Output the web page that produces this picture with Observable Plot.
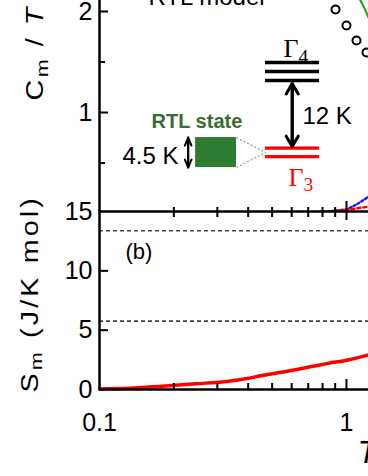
<!DOCTYPE html>
<html><head><meta charset="utf-8">
<script src="https://cdn.jsdelivr.net/npm/d3@7"></script>
<script src="https://cdn.jsdelivr.net/npm/@observablehq/plot@0.6"></script>
<style>
html,body{margin:0;padding:0;background:#fff;overflow:hidden;}
#chart{position:relative;width:368px;height:476px;overflow:hidden;background:#fff;}
#chart svg{position:absolute;left:0;}
</style></head><body><div id="chart"></div>
<script>
// ---------- data ----------
const circleT = [0.903, 1.0, 1.098, 1.205];
const circleC = [2.02, 1.861, 1.713, 1.594];
const greenT = [1.10, 1.139, 1.184, 1.228, 1.30];
const greenC = [2.19, 2.109, 2.03, 1.94, 1.80];
const blueT = [0.6, 0.7, 0.8, 0.9, 1.0, 1.1, 1.2, 1.3];
const blueC = [0.0, 0.005, 0.015, 0.027, 0.04, 0.09, 0.15, 0.22];
const redTopT = [0.75, 0.9, 1.0, 1.1, 1.2, 1.3];
const redTopC = [0.01, 0.025, 0.035, 0.05, 0.065, 0.08];
const entT = [0.1, 0.1315, 0.1794, 0.2448, 0.3339, 0.390, 0.4557, 0.6217, 0.848, 0.991, 1.228, 1.35];
const entS = [0.05, 0.1, 0.28, 0.48, 0.7, 0.9, 1.18, 1.66, 2.22, 2.44, 2.92, 3.2];
const entropyLimits = [5.76, 13.38]; // R ln2, R ln5
const xMajor = [0.1, 1];
const xMinor = [0.2, 0.3, 0.4, 0.5, 0.6, 0.7, 0.8, 0.9];
const cTicks = [1, 2];
const cMinor = [0.5, 1.5];
const sTicks = [0, 5, 10, 15];
const sInner = [5, 10];
// level-scheme inset (drawn in panel-a data units)
const gamma4Levels = [1.495, 1.406, 1.317];
const gamma3Levels = [0.647, 0.564];
const levelSpan = [0.470, 0.778];
const rtlBox = {x1: 0.245, x2: 0.3586, y1: 0.455, y2: 0.752};
const gapArrow = {x: 0.603, y1: 0.663, y2: 1.287};
const rtlArrow = {x: 0.2286, y1: 0.455, y2: 0.752};
const fanPoint = {x: 0.470, y: 0.604};

const zip = (xs, ys, kx, ky) => xs.map((v, i) => ({[kx]: v, [ky]: ys[i]}));
const circles = zip(circleT, circleC, "T", "C");
const green = zip(greenT, greenC, "T", "C");
const blue = zip(blueT, blueC, "T", "C");
const redTop = zip(redTopT, redTopC, "T", "C");
const entropy = zip(entT, entS, "T", "S");

const font = "Liberation Sans, Arial, sans-serif";
const serif = "Liberation Serif, Times New Roman, serif";
const style = {background: "transparent", overflow: "visible", fontFamily: font, color: "black"};
const fmt = d => String(d);

const topPlot = Plot.plot({
  width: 368, height: 211, marginLeft: 99, marginRight: 0, marginTop: 0, marginBottom: 0,
  style,
  x: {type: "log", domain: [0.1, 1.228], label: null, axis: null},
  y: {domain: [0.0198, 2.109], label: null},
  marks: [
    Plot.line(blue, {x: "T", y: "C", stroke: "#1a1aff", strokeWidth: 2.5, strokeDasharray: "2,2.5", clip: true}),
    Plot.line(redTop, {x: "T", y: "C", stroke: "#ff0000", strokeWidth: 2.5, strokeDasharray: "3,3", clip: true}),
    Plot.line(green, {x: "T", y: "C", stroke: "#1aa31a", strokeWidth: 2, curve: "monotone-x"}),
    Plot.dot(circles, {x: "T", y: "C", r: 4, stroke: "black", strokeWidth: 2, fill: "none"}),
    // inset level scheme
    Plot.link([rtlBox.y2, rtlBox.y1], {x1: rtlBox.x2, y1: d => d, x2: fanPoint.x, y2: fanPoint.y, stroke: "#777", strokeWidth: 1, strokeDasharray: "2,2"}),
    Plot.rect([rtlBox], {x1: "x1", x2: "x2", y1: "y1", y2: "y2", fill: "#2e7b32"}),
    Plot.ruleY(gamma4Levels, {y: d => d, x1: levelSpan[0], x2: levelSpan[1], stroke: "black", strokeWidth: 3.3}),
    Plot.ruleY(gamma3Levels, {y: d => d, x1: levelSpan[0], x2: levelSpan[1], stroke: "#ff0000", strokeWidth: 3.3}),
    Plot.arrow([[gapArrow.y1, gapArrow.y2], [gapArrow.y2, gapArrow.y1]], {x1: gapArrow.x, x2: gapArrow.x, y1: d => d[0], y2: d => d[1], stroke: "black", strokeWidth: 3, headLength: 6, headAngle: 60}),
    Plot.arrow([[rtlArrow.y1, rtlArrow.y2], [rtlArrow.y2, rtlArrow.y1]], {x1: rtlArrow.x, x2: rtlArrow.x, y1: d => d[0], y2: d => d[1], stroke: "black", strokeWidth: 2, headLength: 6.5, headAngle: 45}),
    Plot.text(["Γ_{4}"], {text: d => d, x: 0.556, y: 1.545, textAnchor: "start", lineAnchor: "bottom", fontFamily: serif, fontSize: 26, fill: "black"}),
    Plot.text(["Γ_{3}"], {text: d => d, x: 0.582, y: 0.277, textAnchor: "start", lineAnchor: "bottom", fontFamily: serif, fontSize: 26, fill: "#ff0000"}),
    Plot.text(["12 K"], {text: d => d, x: 0.6637, y: 0.888, textAnchor: "start", lineAnchor: "bottom", fontSize: 24, fill: "black"}),
    Plot.text(["4.5 K"], {text: d => d, x: 0.2088, y: 0.492, textAnchor: "end", lineAnchor: "bottom", fontSize: 24, fill: "black"}),
    Plot.text(["RTL state"], {text: d => d, x: 0.248, y: 0.842, textAnchor: "middle", lineAnchor: "bottom", fontSize: 20, fontWeight: "bold", fill: "#3a6b30"}),
    Plot.text(["RTL model"], {text: d => d, x: 0.158, y: 2.069, textAnchor: "start", lineAnchor: "bottom", fontSize: 24, fill: "black"}),
    Plot.text(["C_{m} / *T* (J/K^{2} mol)"], {text: d => d, x: 0.0593, y: 1.119, rotate: -90, textAnchor: "start", lineAnchor: "bottom", fontSize: 23, fill: "black"}),
    // frame + axes
    Plot.ruleX([0.1], {stroke: "black", strokeWidth: 2.5}),
    Plot.axisY({ticks: cTicks, tickSize: -9, stroke: "black", strokeWidth: 2, fill: "none", label: null}),
    Plot.axisY({ticks: cMinor, tickSize: -6, stroke: "black", strokeWidth: 2, fill: "none", label: null}),
    Plot.axisY({ticks: cTicks, tickSize: 0, tickPadding: 7, fontSize: 25, fill: "black", tickFormat: fmt, label: null})
  ]
});

const bottomPlot = Plot.plot({
  width: 368, height: 276, marginLeft: 99, marginRight: 0, marginTop: 11, marginBottom: 87,
  style,
  x: {type: "log", domain: [0.1, 1.228], label: null},
  y: {domain: [0, 15], label: null},
  marks: [
    Plot.ruleY(entropyLimits, {stroke: "#444", strokeWidth: 1.6, strokeDasharray: "4,3"}),
    Plot.line(entropy, {x: "T", y: "S", stroke: "#ff0000", strokeWidth: 3.5, curve: "monotone-x"}),
    Plot.ruleX([0.1], {stroke: "black", strokeWidth: 2.5, strokeLinecap: "square"}),
    Plot.ruleY([0, 15], {stroke: "black", strokeWidth: 2.5}),
    Plot.axisX({anchor: "top", ticks: xMinor, tickSize: 5, stroke: "black", strokeWidth: 2, fill: "none", label: null}),
    Plot.axisX({anchor: "top", ticks: xMinor, tickSize: -5, stroke: "black", strokeWidth: 2, fill: "none", label: null}),
    Plot.axisX({anchor: "top", ticks: [1], tickSize: 11, stroke: "black", strokeWidth: 2, fill: "none", label: null}),
    Plot.axisX({anchor: "top", ticks: [1], tickSize: -8, stroke: "black", strokeWidth: 2, fill: "none", label: null}),
    Plot.axisX({anchor: "bottom", ticks: xMinor, tickSize: -6, stroke: "black", strokeWidth: 2, fill: "none", label: null}),
    Plot.axisX({anchor: "bottom", ticks: [1], tickSize: -10, stroke: "black", strokeWidth: 2, fill: "none", label: null}),
    Plot.axisX({anchor: "bottom", ticks: xMajor, tickSize: 0, tickPadding: 24, fontSize: 25, fill: "black", tickFormat: fmt, label: null}),
    Plot.axisY({ticks: sInner, tickSize: -9, stroke: "black", strokeWidth: 2, fill: "none", label: null}),
    Plot.axisY({ticks: sTicks, tickSize: 0, tickPadding: 7, fontSize: 25, fill: "black", tickFormat: fmt, label: null}),
    Plot.text(["(b)"], {text: d => d, x: 0.1274, y: 11.0, textAnchor: "start", lineAnchor: "bottom", fontSize: 22, fill: "black"}),
    Plot.text(["*T* (K)"], {text: d => d, x: 1.108, y: -6.23, textAnchor: "start", lineAnchor: "bottom", fontSize: 32, fill: "black"}),
    Plot.text(["S_{m} (J/K mol)"], {text: d => d, x: 0.0561, y: -0.25, rotate: -90, textAnchor: "start", lineAnchor: "bottom", fontSize: 23, fill: "black"})
  ]
});

const chart = document.getElementById("chart");
topPlot.style.top = "0px";
bottomPlot.style.top = "200px";
chart.appendChild(topPlot);
chart.appendChild(bottomPlot);

// rich text: _{sub}, ^{sup}, *italic*; rotated axis titles get a slight stretch
function richify(svg) {
  d3.select(svg).selectAll("text").each(function () {
    const s = this.textContent;
    const tr = this.getAttribute("transform") || "";
    if (tr.includes("rotate")) {
      this.setAttribute("transform", tr + " scale(1.25,1)");
      this.style.letterSpacing = s.startsWith("S_") ? "2.5px" : "2px";
    }
    if (!/[_^*]/.test(s)) return;
    const fs = parseFloat(getComputedStyle(this).fontSize) || 16;
    const segs = [];
    const re = /_\{([^}]*)\}|\^\{([^}]*)\}|\*([^*]*)\*|([^_^*]+)/g;
    let m;
    while ((m = re.exec(s))) {
      if (m[1] != null) segs.push({t: m[1], shift: 1});
      else if (m[2] != null) segs.push({t: m[2], shift: -1});
      else if (m[3] != null) segs.push({t: m[3], shift: 0, italic: true});
      else segs.push({t: m[4], shift: 0});
    }
    this.textContent = "";
    let cur = 0;
    for (const sg of segs) {
      const off = sg.shift === 1 ? 0.2 * fs : sg.shift === -1 ? -0.38 * fs : 0;
      const ts = d3.select(this).append("tspan").text(sg.t);
      if (off !== cur) ts.attr("dy", off - cur);
      cur = off;
      if (sg.shift) ts.attr("font-size", 0.75 * fs);
      if (sg.italic) ts.attr("font-style", "italic");
    }
  });
}
richify(topPlot);
richify(bottomPlot);
</script></body></html>
